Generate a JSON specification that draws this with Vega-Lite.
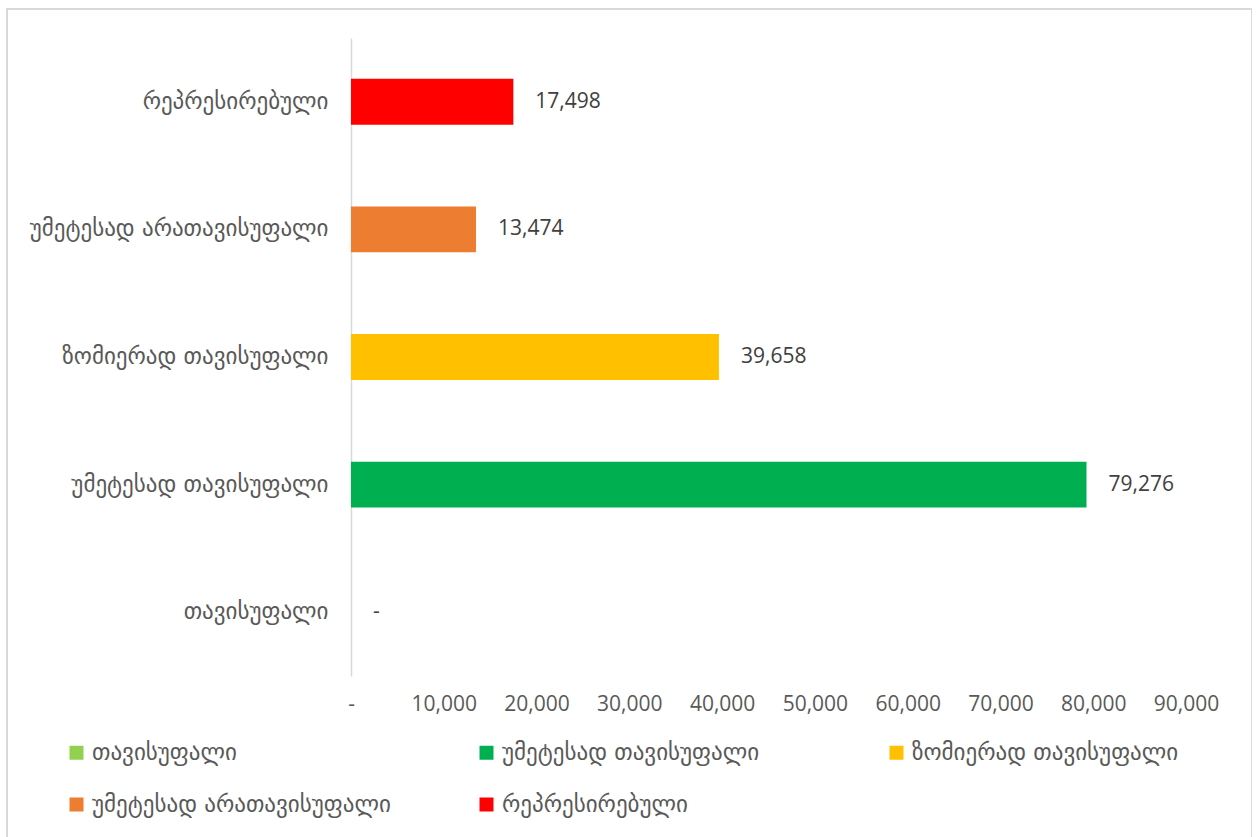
{
  "$schema": "https://vega.github.io/schema/vega-lite/v6.json",
  "width": 1245,
  "height": 835,
  "autosize": {"type": "none"},
  "padding": {"left": 7, "top": 9, "right": 0, "bottom": 0},
  "background": "white",
  "config": {
    "view": {"stroke": "#d9d9d9", "strokeWidth": 2},
    "font": "Open Sans"
  },
  "data": {
    "values": [
      {"category": "თავისუფალი", "value": 0, "label": "-"},
      {"category": "უმეტესად თავისუფალი", "value": 79276, "label": "79,276"},
      {"category": "ზომიერად თავისუფალი", "value": 39658, "label": "39,658"},
      {"category": "უმეტესად არათავისუფალი", "value": 13474, "label": "13,474"},
      {"category": "რეპრესირებული", "value": 17498, "label": "17,498"}
    ]
  },
  "encoding": {
    "y": {
      "field": "category",
      "type": "nominal",
      "sort": ["რეპრესირებული", "უმეტესად არათავისუფალი", "ზომიერად თავისუფალი", "უმეტესად თავისუფალი", "თავისუფალი"],
      "scale": {"range": [29, 667], "paddingInner": 0.64, "paddingOuter": 0.32},
      "axis": {
        "title": null,
        "offset": -344,
        "domain": true,
        "domainColor": "#d9d9d9",
        "domainWidth": 1.5,
        "ticks": false,
        "labelPadding": 23,
        "labelFont": "DejaVu Sans",
        "labelFontSize": 23,
        "labelColor": "#595959",
        "labelLimit": 400
      }
    },
    "x": {
      "field": "value",
      "type": "quantitative",
      "scale": {"domain": [0, 90000], "range": [344, 1179], "nice": false},
      "axis": {
        "title": null,
        "orient": "bottom",
        "offset": -168,
        "domain": false,
        "ticks": false,
        "grid": false,
        "values": [0, 10000, 20000, 30000, 40000, 50000, 60000, 70000, 80000, 90000],
        "labelExpr": "datum.value == 0 ? '-' : format(datum.value, ',')",
        "labelOverlap": false,
        "labelFlush": false,
        "labelBound": false,
        "labelFontSize": 21,
        "labelColor": "#595959",
        "labelPadding": 17
      }
    }
  },
  "layer": [
    {
      "mark": {"type": "bar"},
      "encoding": {
        "color": {
          "field": "category",
          "type": "nominal",
          "scale": {
            "domain": ["თავისუფალი", "უმეტესად თავისუფალი", "ზომიერად თავისუფალი", "უმეტესად არათავისუფალი", "რეპრესირებული"],
            "range": ["#92d050", "#00b050", "#ffc000", "#ed7d31", "#ff0000"]
          },
          "legend": {
            "title": null,
            "orient": "none",
            "direction": "horizontal",
            "legendX": 58,
            "legendY": 732,
            "columns": 3,
            "gridAlign": "all",
            "columnPadding": 84,
            "rowPadding": 28,
            "symbolType": "square",
            "symbolSize": 196,
            "symbolStrokeWidth": 0,
            "labelOffset": 4,
            "labelFont": "DejaVu Sans",
            "labelFontSize": 23,
            "labelColor": "#595959",
            "labelLimit": 500
          }
        }
      }
    },
    {
      "mark": {"type": "text", "align": "left", "baseline": "middle", "dx": 22, "fontSize": 21, "color": "#404040"},
      "encoding": {
        "text": {"field": "label"}
      }
    }
  ]
}
